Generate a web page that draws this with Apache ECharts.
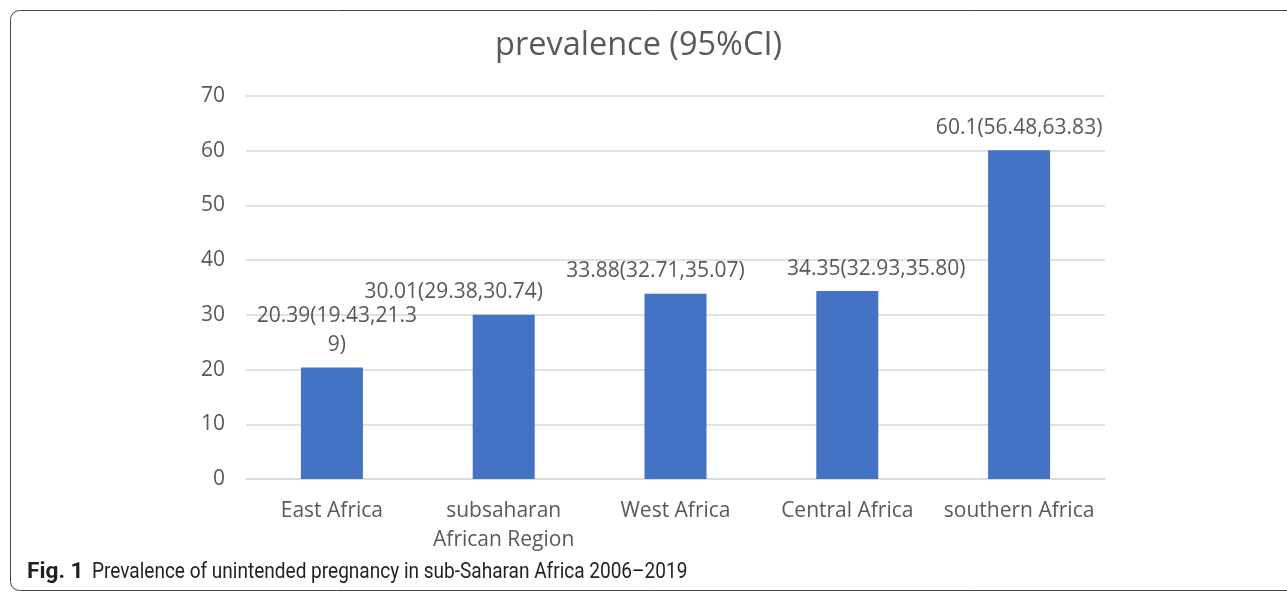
<!DOCTYPE html>
<html><head><meta charset="utf-8">
<script src="https://cdn.jsdelivr.net/npm/echarts@6/dist/echarts.min.js"></script>
<style>html,body{margin:0;padding:0;background:#fff}#c{width:1287px;height:592px}</style>
</head><body><div id="c"></div>
<script>
const categories = ['East Africa', 'subsaharan\nAfrican Region', 'West Africa', 'Central Africa', 'southern Africa'];
const prevalence = [20.39, 30.01, 33.88, 34.35, 60.1];
const ciLow = ['19.43', '29.38', '32.71', '32.93', '56.48'];
const ciHigh = ['21.39', '30.74', '35.07', '35.80', '63.83'];
const yTicks = [0, 10, 20, 30, 40, 50, 60, 70];
const titleText = 'prevalence (95%CI)';
const captionBold = 'Fig. 1';
const captionText = 'Prevalence of unintended pregnancy in sub-Saharan Africa 2006–2019';

// label nudges (style only, mimicking manual placement in the source)
const labelNudgeX = [5, -50, -20, 29, 0];

const chart = echarts.init(document.getElementById('c'));
const grey = '#595959';
const font = '"Open Sans", sans-serif';

const data = prevalence.map((v, i) => ({
  value: v,
  label: {
    offset: [labelNudgeX[i], 0],
    width: i === 0 ? 168 : undefined,
    overflow: i === 0 ? 'breakAll' : 'none'
  }
}));

chart.setOption({
  animation: false,
  title: {
    text: titleText, left: 490, top: 24,
    textStyle: { fontFamily: font, fontSize: 32.5, fontWeight: 'normal', color: grey }
  },
  grid: { left: 246, right: 182, top: 96, bottom: 113, containLabel: false },
  xAxis: {
    type: 'category', data: categories,
    axisLine: { lineStyle: { color: '#d9d9d9', width: 1.5 } },
    axisTick: { show: false },
    axisLabel: { color: grey, fontFamily: font, fontSize: 21, margin: 18, lineHeight: 29, interval: 0 }
  },
  yAxis: {
    type: 'value', min: yTicks[0], max: yTicks[yTicks.length - 1], interval: 10,
    axisLine: { show: false }, axisTick: { show: false },
    splitLine: { lineStyle: { color: '#d9d9d9', width: 1.5 } },
    axisLabel: { color: grey, fontFamily: font, fontSize: 21, margin: 21 }
  },
  series: [{
    type: 'bar', data: data, barWidth: 62,
    itemStyle: { color: '#4472C4' },
    label: {
      show: true, position: 'top', distance: 8,
      color: grey, fontFamily: font, fontSize: 21, lineHeight: 29,
      formatter: p => p.value + '(' + ciLow[p.dataIndex] + ',' + ciHigh[p.dataIndex] + ')'
    }
  }],
  graphic: [
    { type: 'rect', shape: { x: 10.5, y: 10.5, width: 1300, height: 580, r: 9 },
      style: { fill: 'none', stroke: '#444', lineWidth: 1 }, silent: true },
    { type: 'text', x: 27, y: 572, scaleX: 1.03,
      style: { text: captionBold, font: 'bold 22px Roboto, sans-serif', fill: '#231f20', textVerticalAlign: 'middle' } },
    { type: 'text', x: 92, y: 572, scaleX: 0.865,
      style: { text: captionText, font: '22px Roboto, sans-serif', fill: '#231f20', textVerticalAlign: 'middle' } }
  ]
});
</script></body></html>
